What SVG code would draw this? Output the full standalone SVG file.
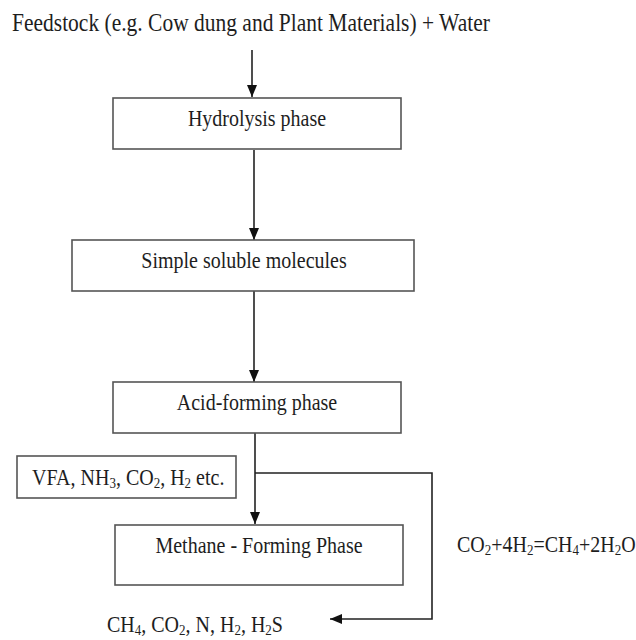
<svg xmlns="http://www.w3.org/2000/svg" width="636" height="640" viewBox="0 0 636 640">
<defs>
<style>
text{font-family:"Liberation Serif","Times New Roman",serif;fill:#1e1e1e;}
.lbl{font-size:20px;text-anchor:middle;}
.box{fill:#fff;stroke:#555;stroke-width:1.6;}
.conn{fill:none;stroke:#222;stroke-width:1.6;}
.sub{font-size:13px;}
</style>
<marker id="ah" markerUnits="userSpaceOnUse" markerWidth="12" markerHeight="12" viewBox="0 0 12 10" refX="12" refY="5" orient="auto">
<path d="M0,0 L12,5 L0,10 z" fill="#111"/>
</marker>
</defs>
<rect width="636" height="640" fill="#fff"/>
<g id="connectors">
<line class="conn" x1="252" y1="50" x2="252" y2="97" marker-end="url(#ah)"/>
<line class="conn" x1="254" y1="150" x2="254" y2="240" marker-end="url(#ah)"/>
<line class="conn" x1="254" y1="291" x2="254" y2="382" marker-end="url(#ah)"/>
<line class="conn" x1="255" y1="433" x2="255" y2="524" marker-end="url(#ah)"/>
<polyline class="conn" points="255,473 432,473 432,619 330,619" marker-end="url(#ah)"/>
</g>
<g id="feedstock">
<text transform="translate(12,31) scale(1,1.15)" style="font-size:21.5px">Feedstock (e.g. Cow dung and Plant Materials) + Water</text>
</g>
<g id="hydrolysis">
<rect class="box" x="113" y="98" width="288" height="51"/>
<text class="lbl" transform="translate(257,126) scale(1,1.13)">Hydrolysis phase</text>
</g>
<g id="simple">
<rect class="box" x="72" y="240" width="342" height="51"/>
<text class="lbl" transform="translate(244,268) scale(1,1.13)">Simple soluble molecules</text>
</g>
<g id="acid">
<rect class="box" x="113" y="382" width="288" height="51"/>
<text class="lbl" transform="translate(257,410) scale(1,1.13)">Acid-forming phase</text>
</g>
<g id="vfa">
<rect class="box" x="17" y="456" width="219" height="42"/>
<text transform="translate(32,485) scale(1,1.13)" style="font-size:20px">VFA, NH<tspan class="sub" dy="3">3</tspan><tspan dy="-3">, CO</tspan><tspan class="sub" dy="3">2</tspan><tspan dy="-3">, H</tspan><tspan class="sub" dy="3">2</tspan><tspan dy="-3"> etc.</tspan></text>
</g>
<g id="methane">
<rect class="box" x="115" y="525" width="288" height="60"/>
<text class="lbl" transform="translate(259,553) scale(1,1.13)">Methane - Forming Phase</text>
</g>
<g id="equation">
<text transform="translate(457,552) scale(1,1.13)" style="font-size:20px">CO<tspan class="sub" dy="3">2</tspan><tspan dy="-3">+4H</tspan><tspan class="sub" dy="3">2</tspan><tspan dy="-3">=CH</tspan><tspan class="sub" dy="3">4</tspan><tspan dy="-3">+2H</tspan><tspan class="sub" dy="3">2</tspan><tspan dy="-3">O</tspan></text>
</g>
<g id="products">
<text transform="translate(107,632) scale(1,1.13)" style="font-size:20px">CH<tspan class="sub" dy="3">4</tspan><tspan dy="-3">, CO</tspan><tspan class="sub" dy="3">2</tspan><tspan dy="-3">, N, H</tspan><tspan class="sub" dy="3">2</tspan><tspan dy="-3">, H</tspan><tspan class="sub" dy="3">2</tspan><tspan dy="-3">S</tspan></text>
</g>
</svg>
